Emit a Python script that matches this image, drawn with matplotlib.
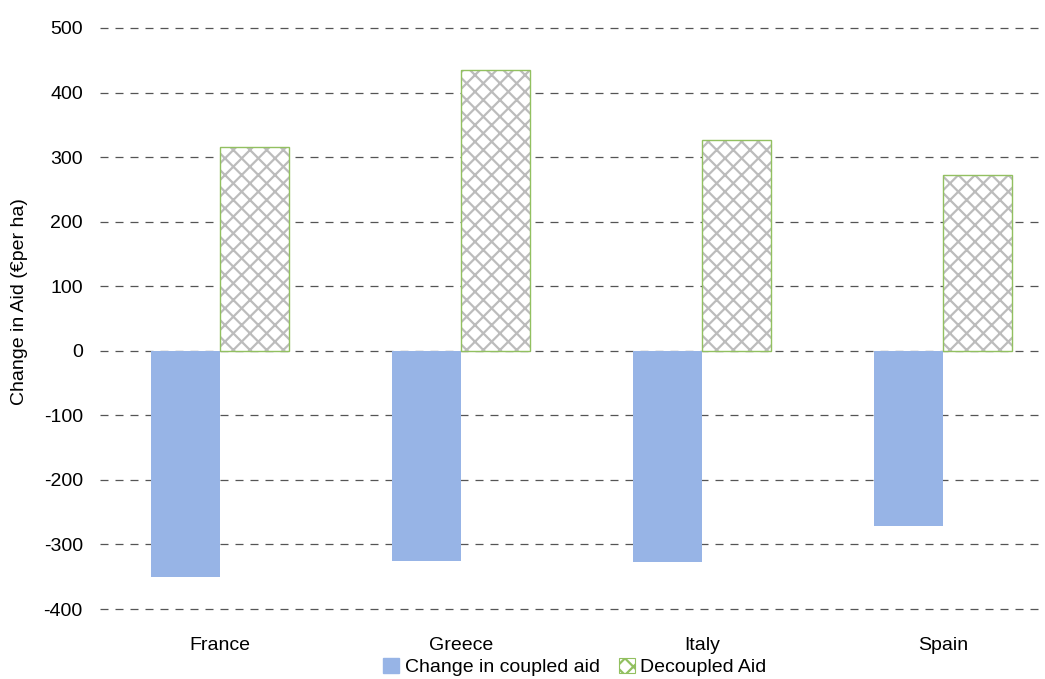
import matplotlib
matplotlib.use("Agg")
import matplotlib.pyplot as plt
from matplotlib.patches import Patch
import numpy as np

plt.rcParams["font.family"] = ["Liberation Sans", "DejaVu Sans"]
plt.rcParams["hatch.linewidth"] = 1.6

countries = ["France", "Greece", "Italy", "Spain"]
coupled_change = [-350, -325, -327, -271]
decoupled_aid = [316, 435, 327, 273]
y_ticks = [-400, -300, -200, -100, 0, 100, 200, 300, 400, 500]

blue = "#97b4e6"
green = "#92c060"
hatch_grey = "#bcbcbc"

W, H = 1045, 679
fig = plt.figure(figsize=(W / 100, H / 100), dpi=100)
ax = fig.add_axes([99.5 / W, (H - 609) / H, 1 - 99.5 / W, (609 - 28) / H])

x = np.arange(len(countries))
bw = 0.287

ax.bar(x - bw / 2, coupled_change, width=bw, color=blue, zorder=3)
# hatched fill, then the green outline on top
ax.bar(x + bw / 2, decoupled_aid, width=bw, color="white", edgecolor=hatch_grey,
       hatch="xx", linewidth=0, zorder=3)
ax.bar(x + bw / 2, decoupled_aid, width=bw, fill=False, edgecolor=green,
       linewidth=1.0, zorder=4)

ax.set_ylim(-400, 500)
ax.set_xlim(-0.5, -0.5 + (W - 99.5) / 241)
ax.set_yticks(y_ticks)
ax.set_yticklabels([str(v) for v in y_ticks], fontsize=14)
ax.set_xticks(x)
ax.set_xticklabels(countries, fontsize=14)
ax.tick_params(axis="both", length=0)
ax.tick_params(axis="x", pad=20)
ax.tick_params(axis="y", pad=12)
for s in ax.spines.values():
    s.set_visible(False)
ax.yaxis.grid(True, linestyle=(0, (6.4, 5.6)), color="#555555", linewidth=0.9, zorder=0)
for gl in ax.get_ygridlines():
    gl.set_clip_on(False)
ax.set_axisbelow(True)

fig.text(20 / W, (H - 302) / H, "Change in Aid (€per ha)", rotation=90,
         ha="center", va="center", fontsize=14)

handles = [
    Patch(facecolor=blue, edgecolor=blue, label="Change in coupled aid"),
    Patch(facecolor="white", edgecolor=green, hatch="xx", linewidth=0.8,
          label="Decoupled Aid"),
]
fig.legend(handles=handles, loc="center", bbox_to_anchor=(575 / W, (H - 667) / H),
           ncol=2, frameon=False, fontsize=14, handlelength=0.8, handleheight=0.8,
           handletextpad=0.3, columnspacing=1.0)

fig.savefig("out.png", dpi=100)
